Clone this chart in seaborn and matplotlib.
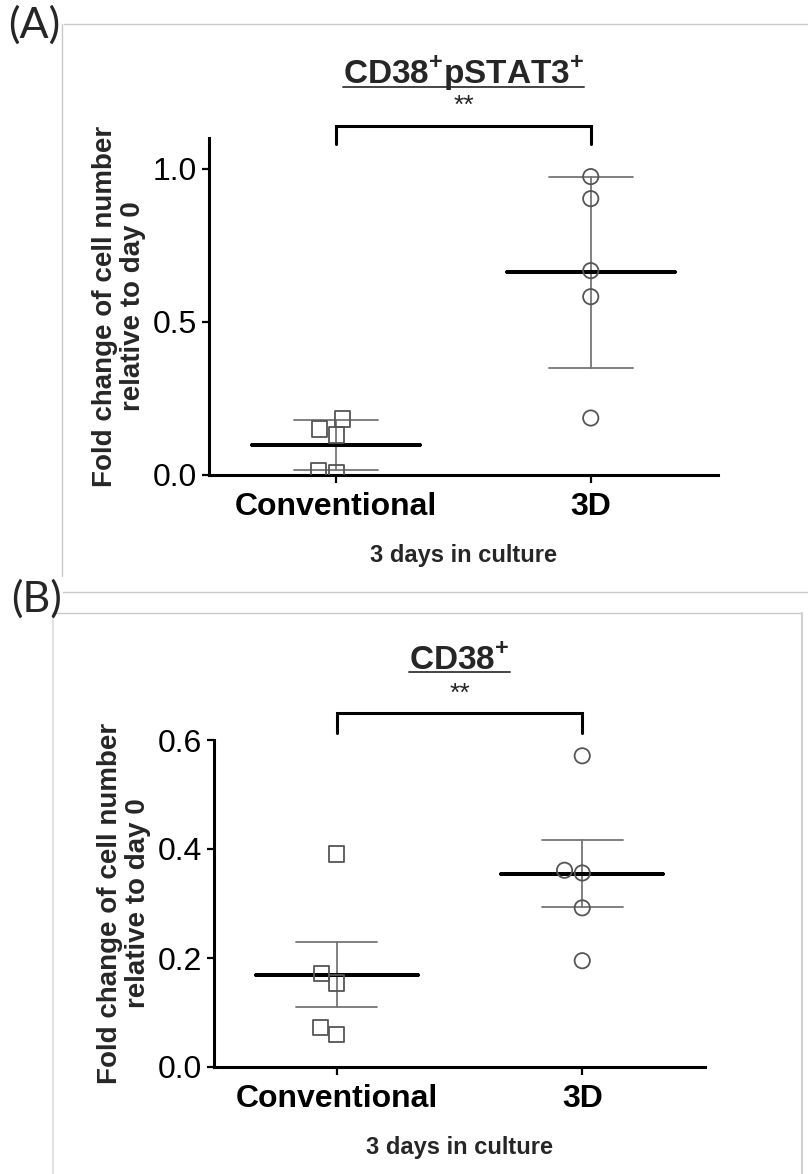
import numpy as np
import pandas as pd
import matplotlib
matplotlib.use("Agg")
import matplotlib.pyplot as plt
from matplotlib.lines import Line2D
import seaborn as sns

# ---------------- data ----------------
categories = ["Conventional", "3D"]
a_conventional = [0.150, 0.131, 0.183, 0.007, 0.013]
a_3d = [0.974, 0.902, 0.667, 0.582, 0.186]
b_conventional = [0.391, 0.171, 0.154, 0.059, 0.072]
b_3d = [0.571, 0.356, 0.361, 0.292, 0.195]
a_yticks = [0.0, 0.5, 1.0]
b_yticks = [0.0, 0.2, 0.4, 0.6]
a_ticklabels = ["0.0", "0.5", "1.0"]
b_ticklabels = ["0.0", "0.2", "0.4", "0.6"]
ylabel = "Fold change of cell number\nrelative to day 0"
xlabel = "3 days in culture"
a_title = r"CD38$^{\mathbf{+}}$pSTAT3$^{\mathbf{+}}$"
b_title = r"CD38$^{\mathbf{+}}$"
signif = "**"

sns.set_style("ticks")
plt.rcParams["font.family"] = ["Liberation Sans", "DejaVu Sans"]
plt.rcParams["mathtext.fontset"] = "custom"
plt.rcParams["mathtext.rm"] = "Liberation Sans"
plt.rcParams["mathtext.bf"] = "Liberation Sans:bold"

W, H = 808, 1174
fig = plt.figure(figsize=(W / 100, H / 100), dpi=100)


def fx(px):
    return px / W


def fy(py):
    return 1 - py / H


def make_df(conv, d3):
    return pd.DataFrame({
        "group": [categories[0]] * len(conv) + [categories[1]] * len(d3),
        "value": list(conv) + list(d3),
    })


def panel(rect, df, err, ylim, yticks, yticklabels, bracket, star_y, title, title_y, uline_y):
    ax = fig.add_axes(rect)
    # error bars (gray)
    sns.pointplot(data=df, x="group", y="value", order=categories, errorbar=err,
                  capsize=0.33, linestyle="none", marker="", color="#767676",
                  err_kws={"linewidth": 1.3, "color": "#767676"}, ax=ax, zorder=2)
    # mean line (black) via zero-width interval
    sns.pointplot(data=df, x="group", y="value", order=categories, errorbar=("sd", 0),
                  capsize=0.66, linestyle="none", marker="", color="black",
                  err_kws={"linewidth": 2.6, "color": "black"}, ax=ax, zorder=3)
    # points
    for cat, mk in zip(categories, ["s", "o"]):
        sub = df[df["group"] == cat]
        sns.swarmplot(data=sub, x="group", y="value", order=categories, marker=mk,
                      size=11, color="white", edgecolor="#555555", linewidth=1.3,
                      ax=ax, zorder=4)
    for coll in ax.collections:
        coll.set_facecolor("none")

    ax.set_xlim(-0.5, 1.5)
    ax.set_ylim(*ylim)
    ax.set_yticks(yticks)
    ax.set_yticklabels(yticklabels, fontsize=23)
    ax.set_xticks([0, 1])
    ax.set_xticklabels(categories, fontsize=23, fontweight="bold")
    ax.set_xlabel(xlabel, fontsize=17, fontweight="bold", labelpad=16)
    ax.set_ylabel(ylabel, fontsize=20, fontweight="bold", labelpad=5, linespacing=1.08)
    sns.despine(ax=ax)
    for s in ["left", "bottom"]:
        ax.spines[s].set_linewidth(2.2)
        ax.spines[s].set_color("black")
    ax.tick_params(axis="y", length=5, width=1.6, pad=3.5, colors="black")
    ax.tick_params(axis="x", length=6, width=1.6, pad=6, colors="black")

    # significance bracket
    ax.plot([0, 0, 1, 1], [bracket[0], bracket[1], bracket[1], bracket[0]],
            color="black", lw=2.2, clip_on=False, solid_joinstyle="miter")
    ax.text(0.5, star_y, signif, ha="center", va="center", fontsize=19, clip_on=False)
    t = ax.text(0.5, title_y, title, ha="center", va="center", fontsize=24,
                fontweight="bold", clip_on=False)
    fig.canvas.draw()
    bb = t.get_window_extent()
    inv = ax.transData.inverted()
    x0 = inv.transform((bb.x0, 0))[0]
    x1 = inv.transform((bb.x1, 0))[0]
    ax.plot([x0, x1], [uline_y, uline_y], color="#444444", lw=1.4, clip_on=False)
    return ax


dfa = make_df(a_conventional, a_3d)
dfb = make_df(b_conventional, b_3d)

panel([fx(209), fy(475), fx(718) - fx(209), fy(138) - fy(475)], dfa, "sd",
      (0, 1.1), a_yticks, a_ticklabels, (1.08, 1.14), 1.205, a_title, 1.31, 1.265)
panel([fx(214), fy(1067), fx(705) - fx(214), fy(740) - fy(1067)], dfb, "se",
      (0, 0.6), b_yticks, b_ticklabels, (0.613, 0.65), 0.685, b_title, 0.744, 0.725)

# panel frames
frame_col = "#c8c8c8"
fig.add_artist(Line2D([fx(64), 1], [fy(24), fy(24)], color=frame_col, lw=1.0))
fig.add_artist(Line2D([fx(62), fx(62)], [fy(24), fy(576)], color=frame_col, lw=1.0))
fig.add_artist(Line2D([fx(63), 1], [fy(592), fy(592)], color=frame_col, lw=1.0))
fig.add_artist(Line2D([fx(53), fx(802)], [fy(613), fy(613)], color=frame_col, lw=1.0))
fig.add_artist(Line2D([fx(53), fx(53)], [fy(613), 0], color="#e2e2e2", lw=1.5))
fig.add_artist(Line2D([fx(802), fx(802)], [fy(613), 0], color="#d0d0d0", lw=1.5))

fig.text(fx(8), fy(25), "(A)", fontsize=31, family=["Lato", "DejaVu Sans"], va="center", ha="left")
fig.text(fx(11), fy(599), "(B)", fontsize=31, family=["Lato", "DejaVu Sans"], va="center", ha="left")

fig.savefig("out.png", dpi=100)
